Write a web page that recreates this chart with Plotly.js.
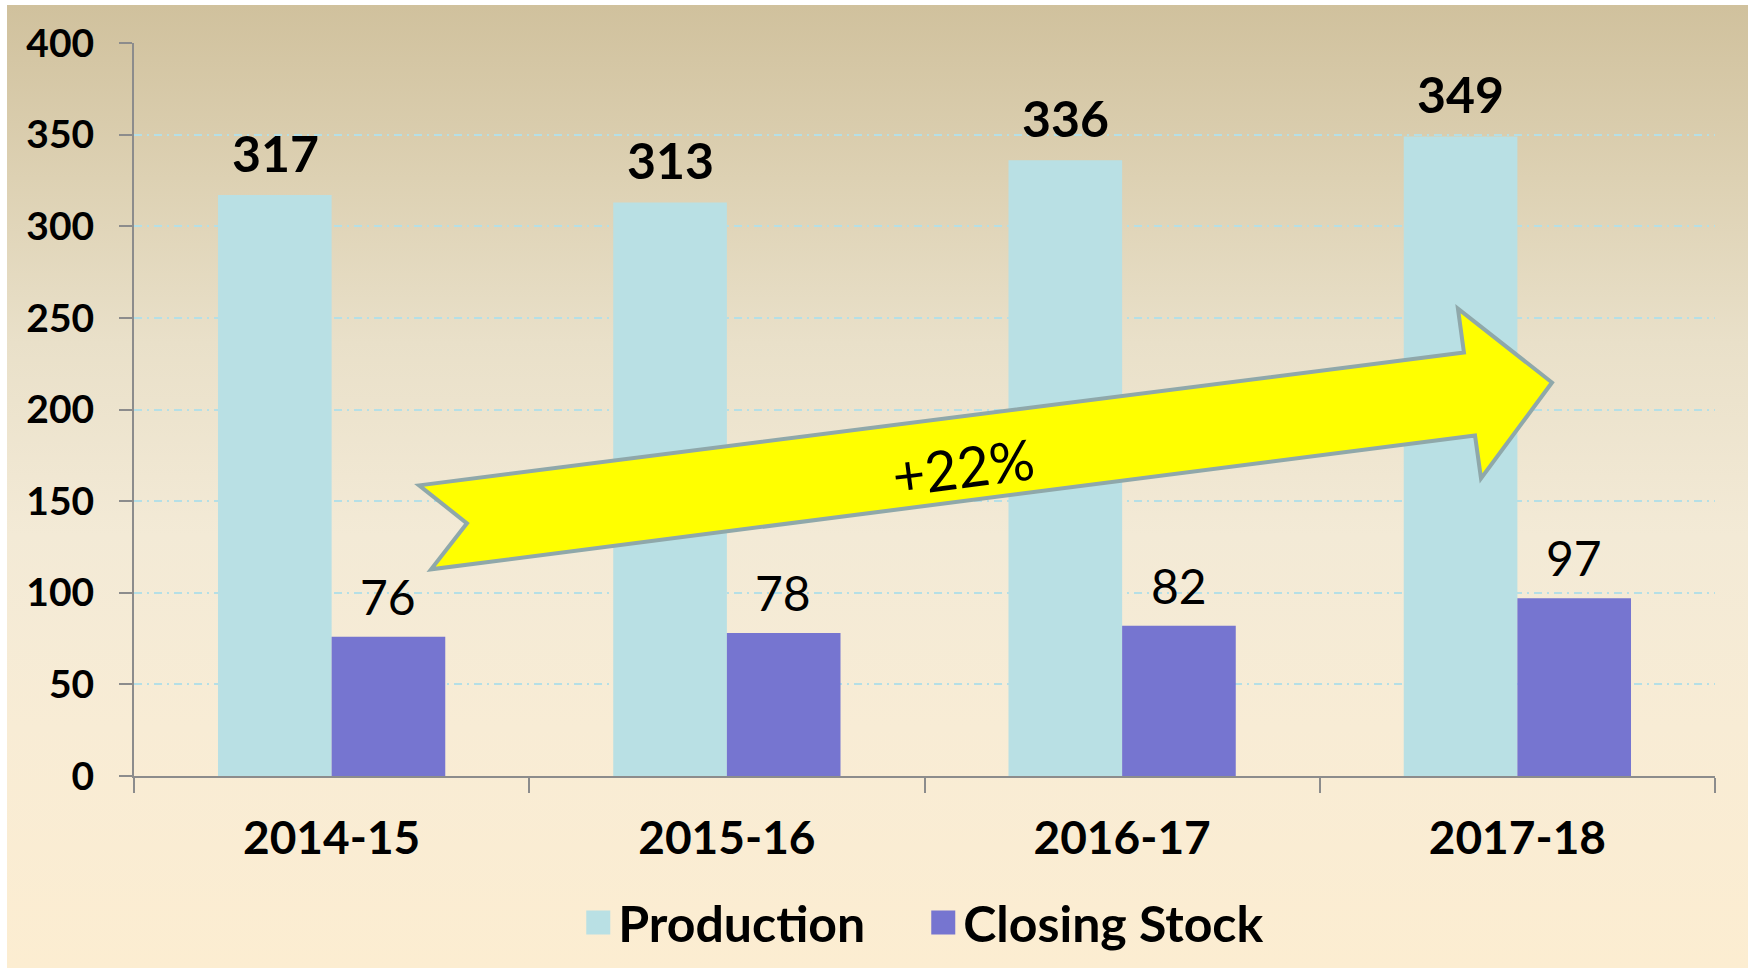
<!DOCTYPE html>
<html>
<head>
<meta charset="utf-8">
<script src="https://cdn.plot.ly/plotly-3.0.1.min.js"></script>
<style>
  html, body { margin: 0; padding: 0; background: #ffffff; width: 1748px; height: 968px; overflow: hidden; }
  #bg { position: absolute; left: 7px; top: 5px; width: 1741px; height: 963px;
        background: linear-gradient(to bottom, #D0C19D 0%, #DDD1B3 18%, #E9E0C9 35%, #F3EAD6 55%, #F8ECD5 75%, #FCEDD1 100%); }
  #chart { position: absolute; left: 0; top: 0; width: 1748px; height: 968px; }
  /* larger square legend keys, as in the reference */
  #chart .legend .legendpoints path { d: path("M12,12H-12V-12H12Z"); }
</style>
</head>
<body>
<div id="bg"></div>
<div id="chart"></div>
<script>
// ---- data ----
const years = ["2014-15", "2015-16", "2016-17", "2017-18"];
const production = [317, 313, 336, 349];
const closingStock = [76, 78, 82, 97];
const seriesNames = ["Production", "Closing Stock"];
const growthLabel = "+22%";

// ---- style ----
const FONT = "Lato, 'Open Sans', 'DejaVu Sans', sans-serif";
const colProd = "#B9E0E4";
const colStock = "#7675D0";

const traces = [
  { type: "bar", name: seriesNames[0], x: years, y: production,
    marker: { color: colProd }, hoverinfo: "x+y+name" },
  { type: "bar", name: seriesNames[1], x: years, y: closingStock,
    marker: { color: colStock }, hoverinfo: "x+y+name" }
];

// value labels positioned via the axes (bar offset within group)
const off = 0.143;
const annotations = [];
years.forEach((yr, i) => {
  annotations.push({ x: i - off, y: production[i], xref: "x", yref: "y",
    text: String(production[i]), showarrow: false, yanchor: "bottom", yshift: 10,
    font: { family: FONT, size: 50, color: "#000", weight: 700 } });
  annotations.push({ x: i + off, y: closingStock[i], xref: "x", yref: "y",
    text: String(closingStock[i]), showarrow: false, yanchor: "bottom", yshift: 10,
    font: { family: FONT, size: 48, color: "#000", weight: 400 } });
});
annotations.push({ x: 0.5244, y: 0.4223, xref: "paper", yref: "paper",
  text: growthLabel, showarrow: false, textangle: -7.3, xanchor: "center", yanchor: "middle",
  font: { family: FONT, size: 56, color: "#000" } });

const arrowPath = "M0.1803,0.3965 L0.8412,0.5777 L0.8374,0.6376 L0.8969,0.5368 L0.8520,0.4060 L0.8482,0.4646 L0.1879,0.2820 L0.2106,0.3447 Z";

const layout = {
  width: 1748, height: 968,
  margin: { l: 134, r: 33, t: 43, b: 192, autoexpand: false },
  paper_bgcolor: "rgba(0,0,0,0)",
  plot_bgcolor: "rgba(0,0,0,0)",
  font: { family: FONT, color: "#000" },
  barmode: "group",
  bargap: 0.425,
  bargroupgap: 0,
  showlegend: true,
  legend: { orientation: "h", x: 0.281, xanchor: "left", y: -0.2, yanchor: "middle",
    entrywidth: 300, entrywidthmode: "pixels",
    font: { family: FONT, size: 50, color: "#000", weight: 700 },
    bgcolor: "rgba(0,0,0,0)", itemclick: false },
  xaxis: {
    type: "category",
    showline: true, linecolor: "#8C8C8C", linewidth: 2,
    ticks: "outside", tickson: "boundaries", ticklen: 15, tickwidth: 2, tickcolor: "#8C8C8C",
    ticklabelstandoff: 21,
    tickfont: { family: FONT, size: 46, color: "#000", weight: 700 },
    showgrid: false, zeroline: false, fixedrange: true, automargin: false
  },
  yaxis: {
    range: [0, 400], dtick: 50, tick0: 0,
    showline: true, linecolor: "#8C8C8C", linewidth: 2,
    ticks: "outside", ticklen: 13, tickwidth: 2, tickcolor: "#8C8C8C",
    ticklabelstandoff: 17,
    tickfont: { family: FONT, size: 39, color: "#000", weight: 700 },
    showgrid: true, gridcolor: "#B5DFE6", gridwidth: 2, griddash: "8px,5px,2px,5px",
    zeroline: false, fixedrange: true, automargin: false
  },
  shapes: [{ type: "path", xref: "paper", yref: "paper", path: arrowPath,
    fillcolor: "#FFFF00", line: { color: "#8FA8AA", width: 4 }, layer: "above" }],
  annotations: annotations
};

function bigKeys() {
  document.querySelectorAll("#chart .legend .legendpoints path").forEach(function (p) {
    p.setAttribute("d", "M12,12H-12V-12H12Z");
  });
}
Plotly.newPlot("chart", traces, layout, { displayModeBar: false, staticPlot: true }).then(function () {
  bigKeys();
  setTimeout(bigKeys, 0);
});
</script>
</body>
</html>
